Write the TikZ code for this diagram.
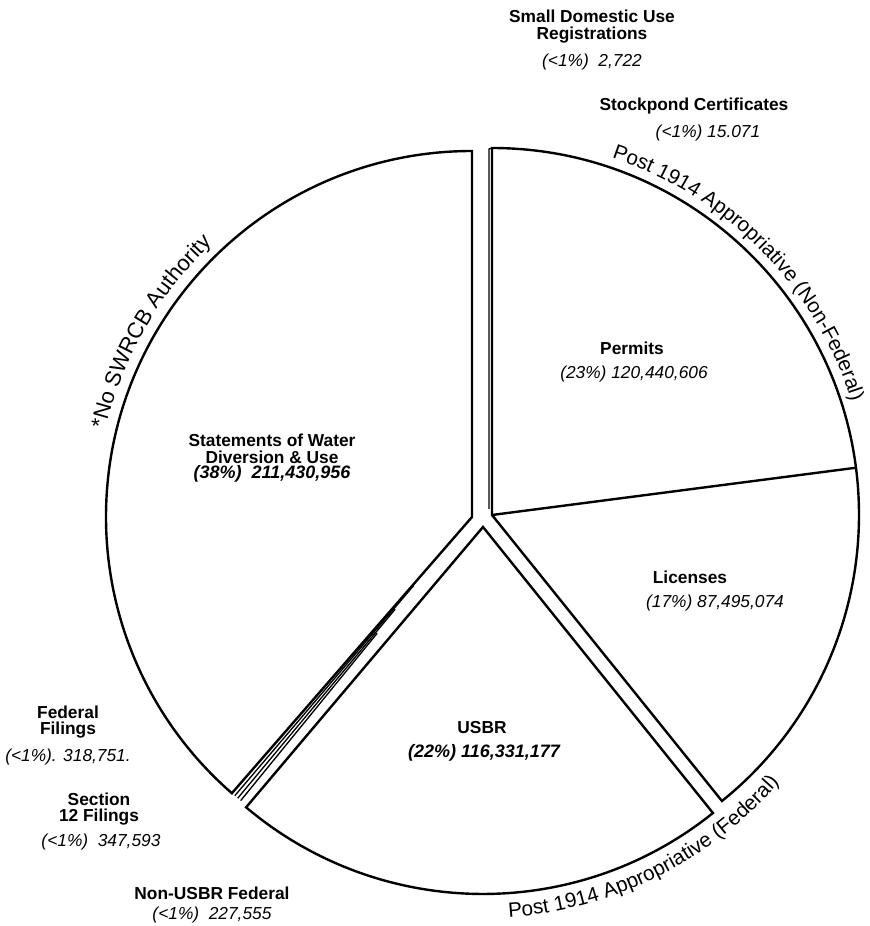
\documentclass[tikz,border=0pt]{standalone}
\usepackage{fontspec}
\setmainfont{Liberation Sans}
\usetikzlibrary{decorations.text}
\newcommand\arcfont{\fontsize{15.5}{19}\selectfont}
\newcommand\arcfontbig{\fontsize{16.5}{20}\selectfont}
\begin{document}
\begin{tikzpicture}[x=0.75pt,y=0.75pt,
  pie/.style={line width=1.8pt, line join=miter},
  sliver/.style={line width=1.0pt},
  lbl/.style={font=\fontsize{13}{15}\selectfont\bfseries, inner sep=0pt},
  num/.style={font=\fontsize{13}{15}\selectfont\itshape, inner sep=0pt},
  heavy/.style={font=\fontsize{13}{15}\selectfont\bfseries, inner sep=0pt},
  heavynum/.style={font=\fontsize{13.5}{15}\selectfont\bfseries\itshape, inner sep=0pt},
  arctext/.style={decorate, decoration={text along path, text align=center, text={#1}}}]
\useasboundingbox (0,0) rectangle (870,926);
% apexes of the three groups
\coordinate (A1) at (492,411); % Permits + Licenses
\coordinate (A2) at (472,409); % Statements
\coordinate (A3) at (483,399); % USBR
% Permits + Licenses
\draw[pie] (A1) -- ([shift={(90:367)}]A1) arc[start angle=90, end angle=-51.2, radius=367] -- cycle;
\draw[pie] (A1) -- ([shift={(7.4:367)}]A1);
% top slivers (Small Domestic, Stockpond)
\draw[sliver] ([shift={(-3,6)}]A1) -- ([shift={(-3,366)}]A1) -- ([shift={(0,367)}]A1);
% Statements
\draw[pie] (A2) -- ([shift={(90:366)}]A2) arc[start angle=90, end angle=229, radius=366] -- cycle;
% lower slivers (Federal Filings, Section 12, Non-USBR Federal)
\draw[sliver] ([shift={(229.6:90)}]A2) -- ([shift={(229.6:366)}]A2);
\draw[sliver] ([shift={(230.2:120)}]A2) -- ([shift={(230.2:366)}]A2);
\draw[sliver] ([shift={(230.8:150)}]A2) -- ([shift={(230.8:366)}]A2);
% USBR
\draw[pie] (A3) -- ([shift={(-51.2:367)}]A3) arc[start angle=-51.2, end angle=-130.2, radius=367] -- cycle;
% curved group titles
\path[arctext={|\arcfont|Post 1914 Appropriative (Non-Federal)}]
  ([shift={(104.5:377)}]A1) arc[start angle=104.5, end angle=-15.5, radius=377];
\path[arctext={|\arcfontbig|*No SWRCB Authority}]
  ([shift={(210:377)}]A2) arc[start angle=210, end angle=90, radius=377];
\path[arctext={|\arcfont|Post 1914 Appropriative (Federal)}]
  ([shift={(-123.5:391)}]A3) arc[start angle=-123.5, end angle=-3.5, radius=391];
% labels inside
\node[heavy] (st1) at (272,486) {Statements of Water};
\node[heavy] (st2) at (272,469) {Diversion \& Use};
\node[heavynum] (st3) at (272,452) {(38\%)\ \ 211,430,956};
\node[lbl] (pe1) at (632,578) {Permits};
\node[num] (pe2) at (634,552) {(23\%) 120,440,606};
\node[lbl] (li1) at (690,349) {Licenses};
\node[num] (li2) at (715,323) {(17\%) 87,495,074};
\node[heavy] (us1) at (482,198) {USBR};
\node[heavynum] (us2) at (484,173) {(22\%) 116,331,177};
% labels outside
\node[lbl] (sd1) at (592,910) {Small Domestic Use};
\node[lbl] (sd2) at (592,891) {Registrations};
\node[num] (sd3) at (592,864) {(<1\%)\ \ 2,722};
\node[lbl] (sp1) at (694,820) {Stockpond Certificates};
\node[num] (sp2) at (708,793) {(<1\%) 15.071};
\node[lbl] (ff1) at (68,214) {Federal};
\node[lbl] (ff2) at (68,196) {Filings};
\node[num] (ff3) at (68,169) {(<1\%). 318,751.};
\node[lbl] (sc1) at (99,127) {Section};
\node[lbl] (sc2) at (99,109) {12 Filings};
\node[num] (sc3) at (101,84) {(<1\%)\ \ 347,593};
\node[lbl] (nu1) at (212,33) {Non-USBR Federal};
\node[num] (nu2) at (212,11) {(<1\%)\ \ 227,555};
\end{tikzpicture}
\end{document}
